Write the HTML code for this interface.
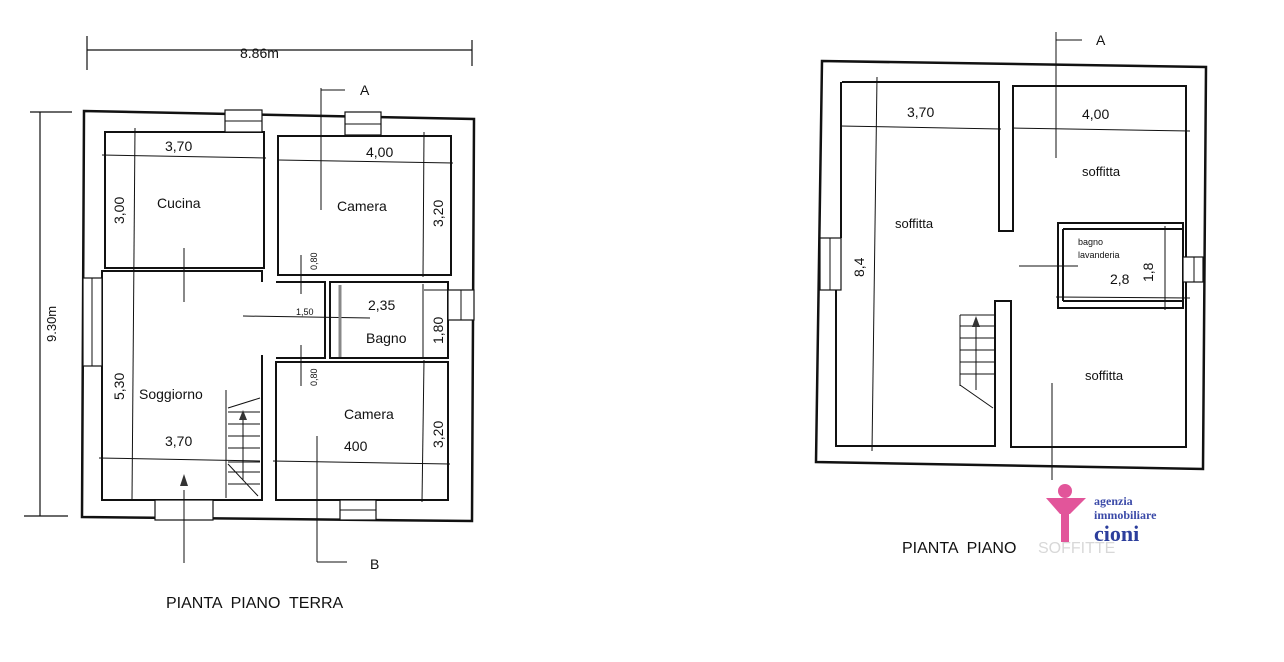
<!DOCTYPE html>
<html><head><meta charset="utf-8"><style>
body{margin:0;background:#fff;width:1284px;height:662px;overflow:hidden}
svg{display:block}
text{font-family:"Liberation Sans",sans-serif;fill:#111;white-space:pre}
</style></head><body>
<svg width="1284" height="662" viewBox="0 0 1284 662">
<g stroke="#111" stroke-width="2" fill="none">
<!-- LEFT PLAN -->
<line x1="87" y1="50" x2="472" y2="50" stroke-width="1.2"/>
<line x1="87" y1="36" x2="87" y2="70" stroke-width="1.2"/>
<line x1="472" y1="40" x2="472" y2="66" stroke-width="1.2"/>
<line x1="40" y1="112" x2="40" y2="516" stroke-width="1.2"/>
<line x1="30" y1="112" x2="72" y2="112" stroke-width="1.2"/>
<line x1="24" y1="516" x2="68" y2="516" stroke-width="1.2"/>
<path d="M84 111 L474 119 L472 521 L82 517 Z" stroke-width="2.5"/>
<rect x="105" y="132" width="159" height="136"/>
<rect x="278" y="136" width="173" height="139"/>
<path d="M262 282 V271 H102 V500 H262 V355"/>
<path d="M276 282 H325 V358 H276"/>
<rect x="330" y="282" width="118" height="76"/>
<rect x="276" y="362" width="172" height="138"/>
</g>
<!-- window gaps left plan -->
<g fill="#fff" stroke="#111" stroke-width="1.2">
<rect x="225" y="110" width="37" height="22"/>
<rect x="345" y="112" width="36" height="23"/>
<rect x="448" y="290" width="26" height="30"/>
<rect x="83" y="278" width="19" height="88"/>
<rect x="155" y="500" width="58" height="20"/>
<rect x="340" y="500" width="36" height="20"/>
</g>
<g stroke="#111" stroke-width="1" fill="none">
<line x1="225" y1="121" x2="262" y2="121"/><line x1="345" y1="124" x2="381" y2="124"/>
<line x1="340" y1="510" x2="376" y2="510"/><line x1="92" y1="278" x2="92" y2="366"/>
<line x1="461" y1="290" x2="461" y2="320"/>
<!-- dims -->
<line x1="102" y1="155" x2="266" y2="158"/>
<line x1="135" y1="128" x2="132" y2="500"/>
<line x1="278" y1="160" x2="453" y2="163"/>
<line x1="424" y1="132" x2="423" y2="277"/>
<line x1="99" y1="458" x2="260" y2="461"/>
<line x1="273" y1="461" x2="450" y2="464"/>
<line x1="424" y1="360" x2="422" y2="502"/>
<line x1="424" y1="290" x2="451" y2="290"/>
<line x1="423" y1="284" x2="423" y2="358"/>
<line x1="243" y1="316" x2="370" y2="318"/>
<line x1="301" y1="255" x2="301" y2="294"/>
<line x1="301" y1="345" x2="301" y2="386"/>
<line x1="184" y1="248" x2="184" y2="302"/>
<line x1="321" y1="88" x2="321" y2="210"/><line x1="321" y1="90" x2="345" y2="90"/>
<line x1="317" y1="436" x2="317" y2="562"/><line x1="317" y1="562" x2="347" y2="562"/>
<line x1="184" y1="490" x2="184" y2="563"/>
<line x1="226" y1="390" x2="226" y2="498"/>
<path d="M228 408 L260 398 M228 412 H260 M228 424 H260 M228 436 H260 M228 448 H260 M228 462 H260 M228 472 H260 M228 484 H260 M228 464 L258 496"/>
<line x1="243" y1="412" x2="243" y2="480"/>
<line x1="340" y1="285" x2="340" y2="357" stroke="#888" stroke-width="3"/>
</g>
<polygon points="243,410 239,420 247,420" fill="#333"/>
<polygon points="184,474 180,486 188,486" fill="#333"/>
<g font-size="14">
<text x="240" y="58">8.86m</text>
<text x="360" y="95">A</text>
<text x="370" y="569">B</text>
<text x="165" y="151">3,70</text>
<text x="157" y="208">Cucina</text>
<text x="337" y="211">Camera</text>
<text x="366" y="157">4,00</text>
<text x="368" y="310">2,35</text>
<text x="366" y="343">Bagno</text>
<text x="139" y="399">Soggiorno</text>
<text x="165" y="446">3,70</text>
<text x="344" y="419">Camera</text>
<text x="344" y="451">400</text>
<text x="166" y="608" font-size="16">PIANTA  PIANO  TERRA</text>
<text transform="translate(56,342) rotate(-90)" font-size="13">9.30m</text>
<text transform="translate(124,224) rotate(-90)">3,00</text>
<text transform="translate(124,400) rotate(-90)">5,30</text>
<text transform="translate(443,227) rotate(-90)">3,20</text>
<text transform="translate(443,344) rotate(-90)">1,80</text>
<text transform="translate(443,448) rotate(-90)">3,20</text>
<text transform="translate(317,270) rotate(-90)" font-size="9">0,80</text>
<text transform="translate(317,386) rotate(-90)" font-size="9">0,80</text>
<text x="296" y="315" font-size="9">1,50</text>
</g>
<!-- RIGHT PLAN -->
<g stroke="#111" stroke-width="2" fill="none">
<path d="M822 61 L1206 67 L1203 469 L816 462 Z" stroke-width="2.5"/>
<path d="M842 82 H999 V231 H1013 V86 H1186 V258 M1186 282 V447 H1011 V301 H995 V446 H836 V290 M841 238 V82"/>
<path d="M1058 223 H1183 V308 H1058 Z M1063 229 H1183 M1063 301 H1183 M1063 229 V301"/>
</g>
<g fill="#fff" stroke="#111" stroke-width="1.2">
<rect x="820" y="238" width="21" height="52"/>
<rect x="1183" y="257" width="20" height="25"/>
</g>
<g stroke="#111" stroke-width="1" fill="none">
<line x1="830" y1="238" x2="830" y2="290"/><line x1="1194" y1="257" x2="1194" y2="282"/>
<line x1="840" y1="126" x2="1001" y2="129"/>
<line x1="1012" y1="128" x2="1190" y2="131"/>
<line x1="877" y1="77" x2="872" y2="451"/>
<line x1="1056" y1="297" x2="1190" y2="298"/>
<line x1="1165" y1="226" x2="1165" y2="310"/>
<line x1="1019" y1="266" x2="1078" y2="266"/>
<line x1="1056" y1="32" x2="1056" y2="158"/><line x1="1056" y1="40" x2="1082" y2="40"/>
<line x1="1052" y1="383" x2="1052" y2="480"/>
<path d="M960 315 V386 M960 315 H995 M960 326 H995 M960 338 H995 M960 350 H995 M960 362 H995 M960 374 H995 M960 385 L993 408 M976 320 V390"/>
</g>
<polygon points="976,316 972,327 980,327" fill="#333"/>
<g font-size="14">
<text x="1096" y="45">A</text>
<text x="907" y="117">3,70</text>
<text x="1082" y="119">4,00</text>
<text x="1082" y="176" font-size="13">soffitta</text>
<text x="895" y="228" font-size="13">soffitta</text>
<text x="1085" y="380" font-size="13">soffitta</text>
<text x="1078" y="245" font-size="9">bagno</text>
<text x="1078" y="258" font-size="9">lavanderia</text>
<text x="1110" y="284">2,8</text>
<text transform="translate(1153,282) rotate(-90)">1,8</text>
<text transform="translate(864,277) rotate(-90)">8,4</text>
<text x="902" y="553" font-size="16">PIANTA  PIANO</text>
<text x="1038" y="553" font-size="16" style="fill:#d8d8d8">SOFFITTE</text>
</g>
<!-- logo -->
<circle cx="1065" cy="491" r="7" fill="#e2559a"/>
<path d="M1046 498 L1060 514 H1070 L1086 498 Z" fill="#e2559a"/>
<rect x="1061" y="510" width="8" height="32" fill="#e2559a"/>
<g font-weight="bold">
<text x="1094" y="505" font-size="12" style="fill:#3b4aa8;font-family:'Liberation Serif',serif">agenzia</text>
<text x="1094" y="519" font-size="12" style="fill:#3b4aa8;font-family:'Liberation Serif',serif">immobiliare</text>
<text x="1094" y="541" font-size="22" style="fill:#2c3e9c;font-family:'Liberation Serif',serif">cioni</text>
</g>
</svg>
</body></html>
